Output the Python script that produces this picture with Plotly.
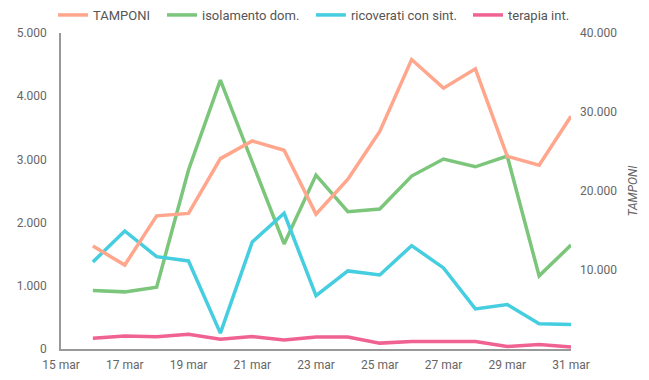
import plotly.graph_objects as go

dates = ["2020-03-16", "2020-03-17", "2020-03-18", "2020-03-19", "2020-03-20", "2020-03-21",
         "2020-03-22", "2020-03-23", "2020-03-24", "2020-03-25", "2020-03-26", "2020-03-27",
         "2020-03-28", "2020-03-29", "2020-03-30", "2020-03-31"]
tamponi = [13030, 10630, 16860, 17160, 24100, 26330, 25150, 17070, 21500, 27550, 36640, 33020,
           35470, 24390, 23260, 29460]
isolamento = [924, 904, 978, 2832, 4253, 2957, 1662, 2752, 2172, 2215, 2736, 3005, 2883, 3052, 1157, 1645]
ricoverati = [1378, 1867, 1461, 1393, 251, 1694, 2147, 845, 1235, 1172, 1635, 1283, 635, 703, 398, 387]
terapia = [172, 204, 193, 235, 156, 197, 141, 188, 188, 93, 118, 118, 118, 40, 71, 30]

tick_dates = ["2020-03-15", "2020-03-17", "2020-03-19", "2020-03-21", "2020-03-23", "2020-03-25",
              "2020-03-27", "2020-03-29", "2020-03-31"]
tick_labels = ["15 mar", "17 mar", "19 mar", "21 mar", "23 mar", "25 mar", "27 mar", "29 mar", "31 mar"]
left_ticks = [0, 1000, 2000, 3000, 4000, 5000]
right_ticks = [10000, 20000, 30000, 40000]

W = 3.5
fig = go.Figure()
fig.add_trace(go.Scatter(x=dates, y=tamponi, name="TAMPONI", mode="lines", yaxis="y2",
                         legend="legend", line=dict(color="#ffa68c", width=W)))
fig.add_trace(go.Scatter(x=dates, y=isolamento, name="isolamento dom.", mode="lines",
                         legend="legend2", line=dict(color="#7cc67c", width=W)))
fig.add_trace(go.Scatter(x=dates, y=ricoverati, name="ricoverati con sint.", mode="lines",
                         legend="legend3", line=dict(color="#45cde0", width=W)))
fig.add_trace(go.Scatter(x=dates, y=terapia, name="terapia int.", mode="lines",
                         legend="legend4", line=dict(color="#f06292", width=W)))

tickfont = dict(family="Roboto", size=12, color="#666666")
legfont = dict(family="Roboto", size=13, color="#555555")


def leg(x):
    return dict(orientation="h", x=x, xanchor="left", y=1.057, yanchor="middle",
                font=legfont, bgcolor="rgba(0,0,0,0)")


fig.update_layout(
    width=641, height=372,
    margin=dict(l=53, r=78, t=25, b=31, autoexpand=False),
    paper_bgcolor="white", plot_bgcolor="white",
    separators=",.",
    font=dict(family="Roboto", size=12, color="#666666"),
    showlegend=True,
    legend=leg(-0.0157),
    legend2=leg(0.198),
    legend3=leg(0.490),
    legend4=leg(0.798),
    xaxis=dict(range=["2020-03-15", "2020-03-31"], tickvals=tick_dates, ticktext=tick_labels,
               showgrid=False, zeroline=False, showline=True, linecolor="#999999", linewidth=1.5,
               ticks="", tickfont=tickfont, ticklabelstandoff=4, automargin=False),
    yaxis=dict(range=[0, 5000], tickvals=left_ticks, tickformat=",d", showgrid=False,
               zeroline=False, showline=True, linecolor="#999999", linewidth=1.5,
               ticks="", tickfont=tickfont, ticklabelstandoff=10, automargin=False),
    yaxis2=dict(range=[0, 40000], tickvals=right_ticks, tickformat=",d", overlaying="y",
                side="right", showgrid=False, zeroline=False, showline=False,
                ticks="", tickfont=tickfont, ticklabelstandoff=8, automargin=False,
                title=dict(text="<i>TAMPONI</i>", font=dict(family="Roboto", size=12, color="#666666"),
                           standoff=12)),
)
fig.write_html("out.html")
